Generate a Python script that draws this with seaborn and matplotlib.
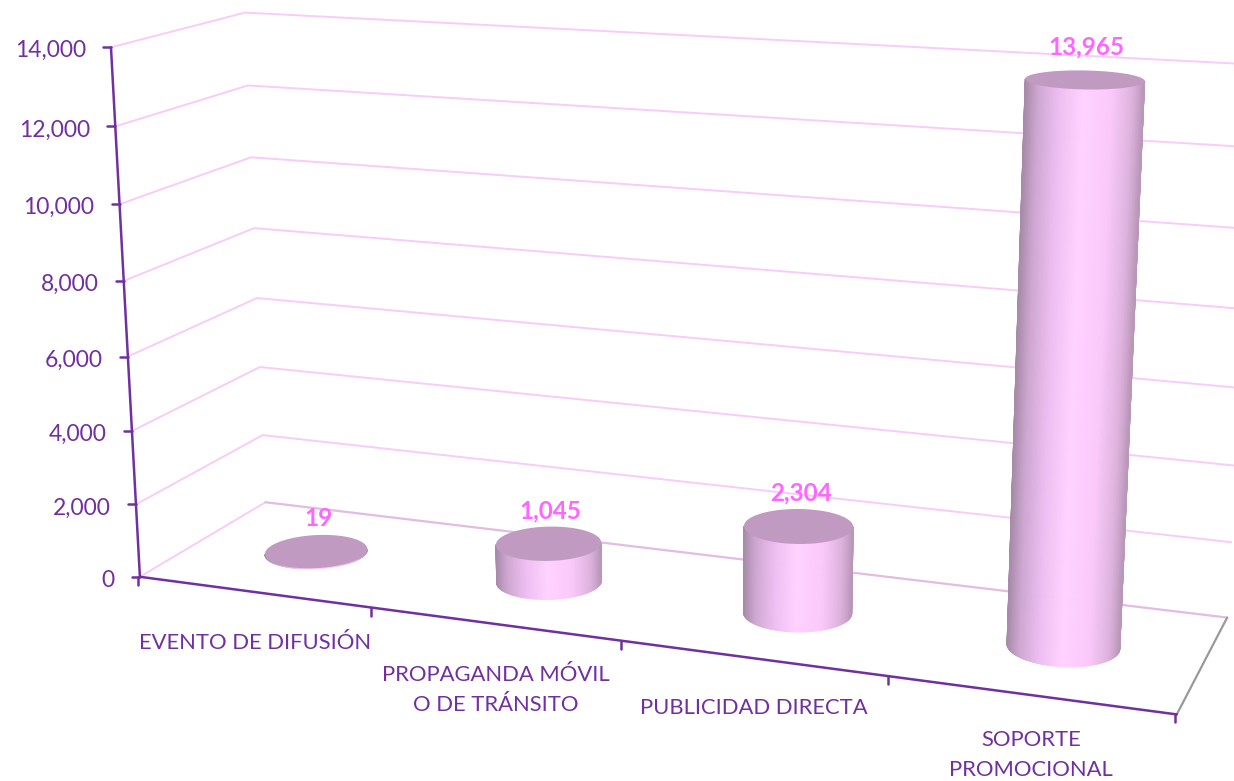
import numpy as np
import pandas as pd
import seaborn as sns
from matplotlib import pyplot as plt
from matplotlib.collections import PolyCollection
from matplotlib.colors import LinearSegmentedColormap

categories = [
    "EVENTO DE DIFUSIÓN",
    "PROPAGANDA MÓVIL\nO DE TRÁNSITO",
    "PUBLICIDAD DIRECTA",
    "SOPORTE\nPROMOCIONAL",
]
values = [19, 1045, 2304, 13965]
value_labels = ["19", "1,045", "2,304", "13,965"]
y_ticks = [0, 2000, 4000, 6000, 8000, 10000, 12000, 14000]
y_max = 14000

PURPLE = "#7030A0"
PINK = "#FF66FF"
GRID = "#F8CCF8"

# camera fit: chart box position (across, depth, height) -> pixel in the image
camera_pts = [
    (0, 0, 0, 140, 577),
    (0, 0, 1 / 7, 136.5, 504),
    (0, 0, 2 / 7, 133, 430),
    (0, 0, 3 / 7, 128, 357),
    (0, 0, 4 / 7, 124, 281),
    (0, 0, 5 / 7, 119, 204),
    (0, 0, 6 / 7, 115, 126),
    (0, 0, 1, 111, 47),
    (0, 1, 0, 265, 502),
    (0, 1, 1, 245, 13),
    (1, 0, 0, 1177, 713),
    (1, 1, 0, 1226, 616),
    (1, 1, 1, 1258, 65),
    (0.25, 0, 0, 373, 608),
    (0.5, 0, 0, 622, 642),
    (0.75, 0, 0, 888, 677),
    (0.125, 0.5, 0, 316, 552),
    (0.375, 0.5, 0, 549, 582),
    (0.625, 0.5, 0, 798, 613),
    (0.875, 0.5, 0, 1066, 647),
    (0.875, 0.5, 0.9975, 1084, 80),
]


def fit_camera(pts):
    rows = []
    rhs = []
    for X, Y, Z, u, v in pts:
        rows.append([X, Y, Z, 1, 0, 0, 0, 0, -u * X, -u * Y, -u * Z])
        rows.append([0, 0, 0, 0, X, Y, Z, 1, -v * X, -v * Y, -v * Z])
        rhs += [u, v]
    sol = np.linalg.lstsq(np.array(rows), np.array(rhs), rcond=None)[0]
    return np.append(sol, 1).reshape(3, 4)


P = fit_camera(camera_pts)


def project(t, d, val):
    """Chart position (across, depth, value) to pixel"""
    t, d, val = np.broadcast_arrays(t, d, val)
    q = np.stack([t, d, val / y_max, np.ones_like(t, dtype=float)])
    w = P @ q
    return w[0] / w[2], w[1] / w[2]


def draw_lines(ax, segments, color, lw):
    rows = []
    for i, seg in enumerate(segments):
        for x, y in seg:
            rows.append({"line": i, "x": x, "y": y})
    sns.lineplot(
        data=pd.DataFrame(rows),
        x="x",
        y="y",
        units="line",
        estimator=None,
        sort=False,
        color=color,
        linewidth=lw,
        legend=False,
        ax=ax,
    )


sns.set_theme(style="white")
plt.rcParams["font.family"] = ["Lato", "DejaVu Sans"]

fig = plt.figure(figsize=(12.34, 7.81), dpi=100)
ax = fig.add_axes([0, 0, 1, 1])

# walls
grid_segs = []
for tick in y_ticks[1:]:
    grid_segs.append(
        [project(0, 0, tick), project(0, 1, tick), project(1, 1, tick)]
    )
grid_segs.append([project(0, 0, 0), project(0, 1, 0)])
draw_lines(ax, grid_segs, GRID, 1.4)
draw_lines(ax, [[project(0, 1, 0), project(1, 1, 0)]], "#E2BCE2", 1.6)
draw_lines(ax, [[project(1, 0, 0), project(1, 1, 0)]], "#999999", 1.6)

# axes and ticks
axis_segs = [
    [project(0, 0, 0), project(0, 0, y_max)],
    [project(0, 0, 0), project(1, 0, 0)],
]
for tick in y_ticks:
    x, y = project(0, 0, tick)
    axis_segs.append([(x - 8, y), (x, y)])
for i in range(len(categories) + 1):
    x, y = project(i / len(categories), 0, 0)
    axis_segs.append([(x - 2, y), (x - 2, y + 8)])
draw_lines(ax, axis_segs, PURPLE, 1.8)

# cylinders
side_cmap = LinearSegmentedColormap.from_list(
    "side",
    [
        (0.0, "#A78AA8"),
        (0.1, "#CDA6D0"),
        (0.28, "#EDBEF1"),
        (0.48, "#FFD2FF"),
        (0.72, "#FAC9FA"),
        (0.9, "#DDB2DD"),
        (1.0, "#B997B8"),
    ],
)
theta = np.linspace(0, 2 * np.pi, 241)
rad_t = 0.05
rad_d = 0.205
for i, val in enumerate(values):
    t0 = (i + 0.5) / len(categories)
    ring_t = t0 + rad_t * np.cos(theta)
    ring_d = 0.5 + rad_d * np.sin(theta)
    bx, by = project(ring_t, ring_d, 0.0)
    tx, ty = project(ring_t, ring_d, float(val))

    # visible side runs through the lower part of the base ring
    order = np.argsort(bx)
    left, right = bx.min(), bx.max()
    front = np.where(by >= np.interp(bx, [left, right], [by[order[0]], by[order[-1]]]))[0]
    front = front[np.argsort(bx[front])]
    polys = []
    colors = []
    for a, b in zip(front[:-1], front[1:]):
        polys.append([(bx[a], by[a]), (bx[b], by[b]), (tx[b], ty[b]), (tx[a], ty[a])])
        colors.append(side_cmap((bx[a] - left) / (right - left)))
    ax.add_collection(
        PolyCollection(polys, facecolors=colors, edgecolors=colors, linewidths=0.6, zorder=5)
    )
    ax.fill(tx, ty, color="#C09AC0", lw=0, zorder=6)

    lx, ly = project(t0, 0.5, float(val))
    ax.text(
        lx + 2,
        ly - 33,
        value_labels[i],
        color=PINK,
        fontsize=17.5,
        fontweight="bold",
        ha="center",
        va="center",
        zorder=7,
    )

# tick labels
for tick in y_ticks:
    x, y = project(0, 0, tick)
    ax.text(x - 25, y + 3.5, f"{tick:,}", color=PURPLE, fontsize=16.5, ha="right", va="center")
label_drop = [41, 41, 40, 35]
for i, cat in enumerate(categories):
    x, y = project((i + 0.5) / len(categories), 0, 0)
    ax.text(
        x,
        y + label_drop[i],
        cat,
        color=PURPLE,
        fontsize=15.8,
        ha="center",
        va="top",
        linespacing=1.65,
    )

ax.set_xlim(0, 1234)
ax.set_ylim(781, 0)
ax.axis("off")

fig.savefig("out.png", dpi=100)
